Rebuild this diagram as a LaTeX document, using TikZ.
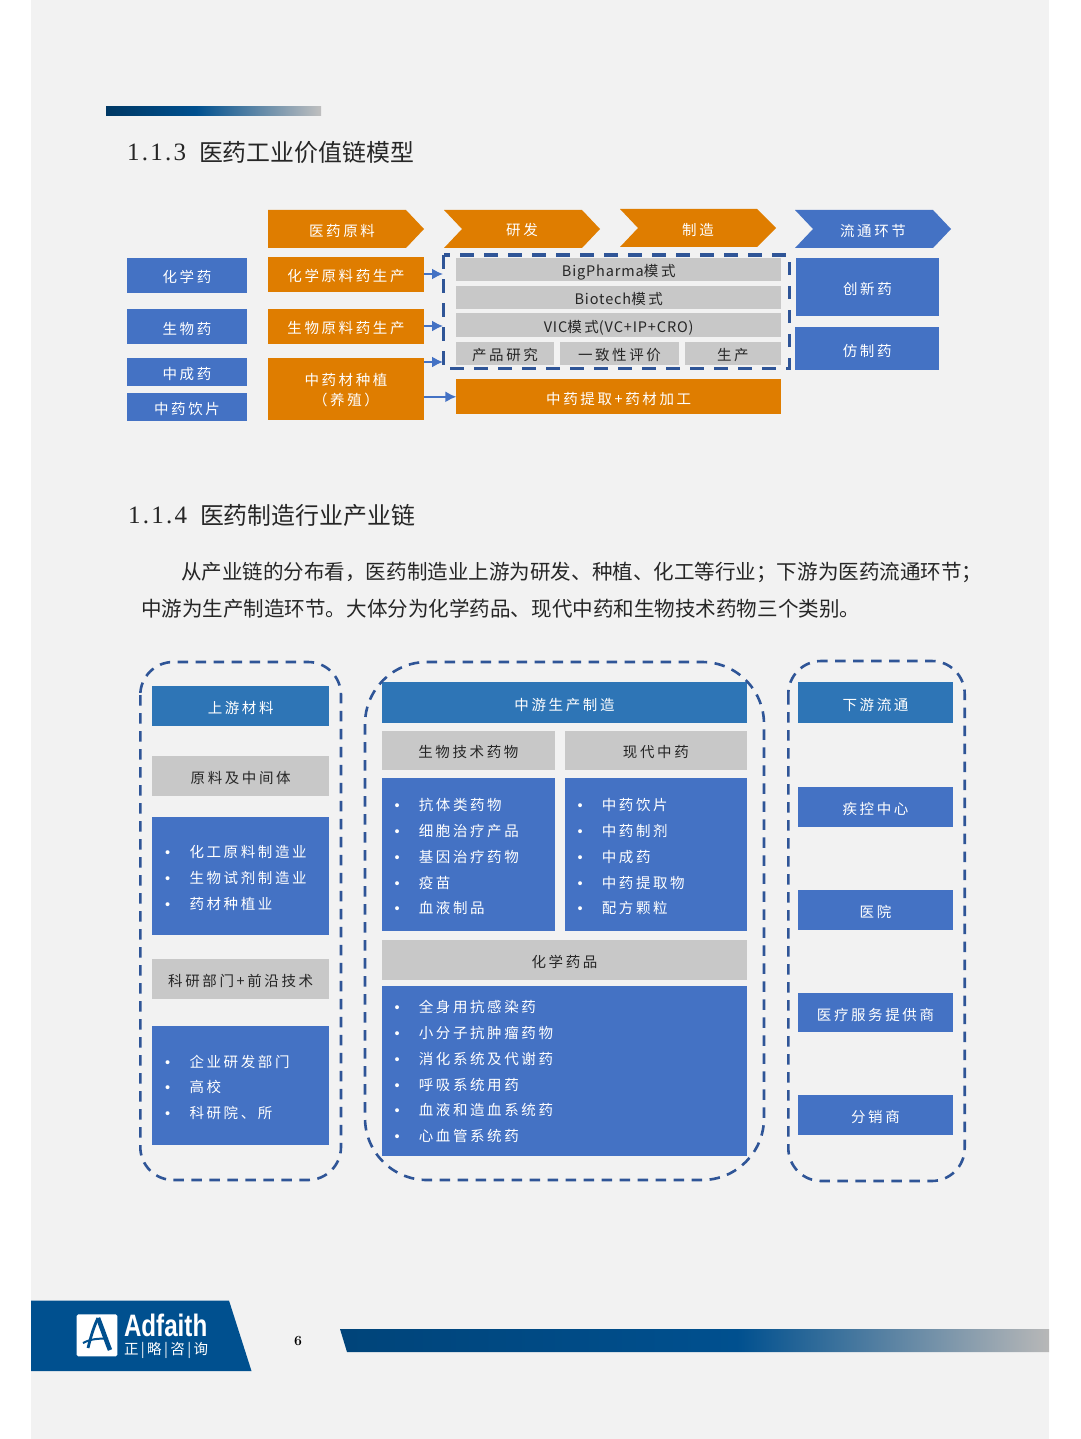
\documentclass[tikz,border=0pt]{standalone}
\usepackage{xcolor}
\usepackage{fontspec}
\usepackage{tikz}
\usetikzlibrary{arrows.meta}

\newfontfamily\cjk[LetterSpace=18]{Noto Sans CJK SC}
\newfontfamily\cjktight{Noto Sans CJK SC}
\newfontfamily\latinpart[LetterSpace=6]{Noto Sans CJK SC}
\newfontfamily\numfont[LetterSpace=9]{Liberation Serif}
\newfontfamily\logofont{Liberation Sans}
\newcommand{\li}{\makebox[24.3pt][l]{\logofont •}}

\definecolor{pagegray}{HTML}{F2F2F2}
\definecolor{boxblue}{HTML}{4472C4}
\definecolor{headblue}{HTML}{2E75B6}
\definecolor{boxorange}{HTML}{DF7D00}
\definecolor{boxgray}{HTML}{C8C8C8}
\definecolor{dashblue}{HTML}{2F5597}
\definecolor{logoblue}{HTML}{00508F}

\pgfdeclarehorizontalshading{topfade}{100bp}{color(0bp)=(black!30!logoblue); color(25bp)=(black!30!logoblue); color(46bp)=(logoblue); color(75bp)=(black!25); color(100bp)=(black!25)}
\pgfdeclarehorizontalshading{bottomfade}{100bp}{color(0bp)=(black!15!logoblue); color(25bp)=(black!15!logoblue); color(53bp)=(logoblue); color(75bp)=(black!28); color(100bp)=(black!28)}

\tikzset{
  every node/.style={inner sep=0,outer sep=0},
  boxtext/.style={font=\cjk\fontsize{14.5}{20}\selectfont,align=center,text height=15pt,text depth=0pt},
  bluebox/.style={boxtext,fill=boxblue,text=white},
  headbox/.style={boxtext,fill=headblue,text=white},
  orangebox/.style={boxtext,fill=boxorange,text=white},
  graybox/.style={boxtext,fill=boxgray,text=black!85},
  headtext/.style={boxtext,text=white,text height=12.5pt},
  listtext/.style={boxtext,text=white,anchor=west,text height=11pt},
  linktip/.style={draw=boxblue,line width=1.8,-{Latex[length=11pt,width=11pt]}},
  dashboxA/.style={draw=dashblue,line width=3.2,dash pattern=on 13.5pt off 10.5pt},
  dashboxB/.style={draw=dashblue,line width=2.6,dash pattern=on 10.5pt off 7.5pt},
  bodytext/.style={font=\cjktight\fontsize{20.55}{20.55}\selectfont,text=black!85,anchor=west},
  titletext/.style={font=\cjktight\fontsize{23.9}{23.9}\selectfont,text=black!85,anchor=west},
  titlenum/.style={font=\numfont\fontsize{25}{25}\selectfont,text=black!85,anchor=west},
}

\begin{document}
\begin{tikzpicture}[x=1pt,y=-1pt]
\useasboundingbox (0,0) rectangle (1080,1439);
\fill[white] (0,0) rectangle (1080,1439);
\fill[pagegray] (31,0) rectangle (1049,1439);

\shade[shading=topfade] (106,107) rectangle (321,116);
\node[titlenum] (numA) at (127,152.5) {1.1.3};
\node[titletext] (titleA) at (199,152.5) {医药工业价值链模型};

\fill[boxorange] (268,210)--(406,210)--(424,229)--(406,248)--(268,248)--cycle;
\fill[boxorange] (444,210)--(582,210)--(600,229)--(582,248)--(444,248)--(462,229)--cycle;
\fill[boxorange] (620,209)--(757,209)--(776,228)--(757,247)--(620,247)--(638,228)--cycle;
\fill[boxblue] (795,210)--(933,210)--(951,229)--(933,248)--(795,248)--(813,229)--cycle;
\node[headtext] (yuanliao) at (342,230) {医药原料};
\node[headtext] (yanfa) at (522,229) {研发};
\node[headtext] (zhizao) at (698,229) {制造};
\node[headtext] (liutong) at (873,230) {流通环节};

\node[bluebox,minimum width=120,minimum height=34.7] (huaxue) at (187,275.3) {化学药};
\node[bluebox,minimum width=120,minimum height=34.7] (shengwu) at (187,326.7) {生物药};
\node[bluebox,minimum width=120,minimum height=27.7] (zhongcheng) at (187,372.2) {中成药};
\node[bluebox,minimum width=120,minimum height=27.4] (yinpian) at (187,407) {中药饮片};

\node[orangebox,minimum width=156,minimum height=34.7] (huaxueyuan) at (346,274.3) {化学原料药生产};
\node[orangebox,minimum width=156,minimum height=35] (shengwuyuan) at (346,326.2) {生物原料药生产};
\node[orangebox,minimum width=156,minimum height=61.7,text height=32.6pt,text depth=0pt] (zhongyaocai) at (346,389.2) {中药材种植\\（养殖）};

\node[graybox,minimum width=324.7,minimum height=23.3] (bigpharma) at (618.7,269.3) {{\latinpart BigPharma}模式};
\node[graybox,minimum width=324.7,minimum height=23] (biotech) at (618.7,297.2) {{\latinpart Biotech}模式};
\node[graybox,minimum width=324.7,minimum height=23.4] (vic) at (618.7,325) {{\latinpart VIC}模式{\latinpart (VC+IP+CRO)}};
\node[graybox,minimum width=98.6,minimum height=23.3] (chanpin) at (505,353.3) {产品研究};
\node[graybox,minimum width=119.6,minimum height=23.3] (yizhi) at (619.5,353.3) {一致性评价};
\node[graybox,minimum width=96.3,minimum height=23.3] (shengchan) at (732.8,353.3) {生产};
\node[orangebox,minimum width=324.7,minimum height=35] (tiqu) at (618.7,396.8) {中药提取+药材加工};

\node[bluebox,minimum width=143,minimum height=57.7] (chuangxin) at (867.5,287.2) {创新药};
\node[bluebox,minimum width=143.7,minimum height=42.7] (fangzhi) at (867.2,348.7) {仿制药};

\draw[dashboxA] (443.7,255) rectangle (789.3,368.3);

\coordinate (inA) at (443,274);
\coordinate (inB) at (443,326);
\coordinate (inC) at (443,362);
\draw[linktip] (huaxueyuan.east |- inA) -- (inA);
\draw[linktip] (shengwuyuan.east |- inB) -- (inB);
\draw[linktip] (zhongyaocai.east |- inC) -- (inC);
\draw[linktip] (zhongyaocai.east |- tiqu) -- (tiqu.west);

\node[titlenum] (numB) at (128,515.5) {1.1.4};
\node[titletext] (titleB) at (200,515.5) {医药制造行业产业链};
\node[bodytext] (lineA) at (181,572) {从产业链的分布看，医药制造业上游为研发、种植、化工等行业；下游为医药流通环节；};
\node[bodytext] (lineB) at (141,609) {中游为生产制造环节。大体分为化学药品、现代中药和生物技术药物三个类别。};

\node[headbox,minimum width=176.7,minimum height=40.3] (shangyou) at (240.7,706.2) {上游材料};
\node[graybox,minimum width=176.7,minimum height=40] (yuanliaozhong) at (240.7,776) {原料及中间体};
\node[bluebox,minimum width=176.7,minimum height=118.6] (listA) at (240.7,876) {};
\node[graybox,minimum width=176.7,minimum height=40] (keyan) at (240.7,979) {科研部门+前沿技术};
\node[bluebox,minimum width=176.7,minimum height=119] (listB) at (240.7,1085.5) {};

\node[listtext] (itemAa) at (165.2,852) {\li 化工原料制造业};
\node[listtext] (itemAb) at (165.2,878) {\li 生物试剂制造业};
\node[listtext] (itemAc) at (165.2,903.5) {\li 药材种植业};
\node[listtext] (itemBa) at (165.2,1061.5) {\li 企业研发部门};
\node[listtext] (itemBb) at (165.2,1087) {\li 高校};
\node[listtext] (itemBc) at (165.2,1113) {\li 科研院、所};

\node[headbox,minimum width=365,minimum height=41.3] (zhongyou) at (564.5,702.7) {中游生产制造};
\node[graybox,minimum width=172.7,minimum height=38.7] (jishu) at (468.4,750.4) {生物技术药物};
\node[graybox,minimum width=182.3,minimum height=38.7] (xiandai) at (655.9,750.4) {现代中药};
\node[bluebox,minimum width=172.7,minimum height=153] (listC) at (468.4,854.5) {};
\node[bluebox,minimum width=182.3,minimum height=153] (listD) at (655.9,854.5) {};
\node[graybox,minimum width=365,minimum height=40] (huaxuepin) at (564.5,960) {化学药品};
\node[bluebox,minimum width=365,minimum height=170] (listE) at (564.5,1071) {};

\node[listtext] (itemCa) at (394.5,805) {\li 抗体类药物};
\node[listtext] (itemCb) at (394.5,831) {\li 细胞治疗产品};
\node[listtext] (itemCc) at (394.5,857) {\li 基因治疗药物};
\node[listtext] (itemCd) at (394.5,882.5) {\li 疫苗};
\node[listtext] (itemCe) at (394.5,908) {\li 血液制品};

\node[listtext] (itemDa) at (577.5,805) {\li 中药饮片};
\node[listtext] (itemDb) at (577.5,831) {\li 中药制剂};
\node[listtext] (itemDc) at (577.5,857) {\li 中成药};
\node[listtext] (itemDd) at (577.5,882.5) {\li 中药提取物};
\node[listtext] (itemDe) at (577.5,908) {\li 配方颗粒};

\node[listtext] (itemEa) at (394.5,1007) {\li 全身用抗感染药};
\node[listtext] (itemEb) at (394.5,1033) {\li 小分子抗肿瘤药物};
\node[listtext] (itemEc) at (394.5,1058.5) {\li 消化系统及代谢药};
\node[listtext] (itemEd) at (394.5,1084.5) {\li 呼吸系统用药};
\node[listtext] (itemEe) at (394.5,1110) {\li 血液和造血系统药};
\node[listtext] (itemEf) at (394.5,1136) {\li 心血管系统药};

\node[headbox,minimum width=154.4,minimum height=41] (xiayou) at (875.5,702.8) {下游流通};
\node[bluebox,minimum width=154.4,minimum height=40.3] (jikong) at (875.5,807.2) {疾控中心};
\node[bluebox,minimum width=154.4,minimum height=40] (yiyuan) at (875.5,910) {医院};
\node[bluebox,minimum width=154.4,minimum height=39.5] (yiliao) at (875.5,1012.7) {医疗服务提供商};
\node[bluebox,minimum width=154.4,minimum height=40] (fenxiao) at (875.5,1115) {分销商};

\draw[dashboxB,rounded corners=33] (140.3,662) rectangle (341,1180);
\draw[dashboxB,rounded corners=62] (365,662) rectangle (764,1180);
\draw[dashboxB,rounded corners=33] (788.3,661) rectangle (964.7,1181);

\fill[logoblue] (31,1300.5)--(229,1300.5)--(251.5,1371)--(31,1371)--cycle;
\fill[white,rounded corners=1.5] (76.7,1314.3) rectangle (117.3,1356.3);
\draw[logoblue,line width=2.8] (88,1348) .. controls (91,1336) and (94,1326) .. (98,1318);
\draw[logoblue,line width=4.5] (98,1318) .. controls (102,1328) and (106,1340) .. (110,1350);
\draw[logoblue,line width=2] (83,1343) .. controls (90,1339) and (100,1338) .. (108,1339);
\node[font=\logofont\bfseries\fontsize{31}{31}\selectfont,text=white,anchor=west,xscale=.78,transform shape] (adfaith) at (124,1325) {Adfaith};
\node[font=\cjktight\fontsize{14.5}{14.5}\selectfont,text=white,anchor=west] (zhenglue) at (124,1350) {正\,|\,略\,|\,咨\,|\,询};

\node[font=\bfseries\fontsize{14}{14}\selectfont,text=black] (pagenum) at (298,1341) {6};
\shade[shading=bottomfade] (340,1329)--(1049,1329)--(1049,1352)--(347,1352)--cycle;
\end{tikzpicture}
\end{document}
